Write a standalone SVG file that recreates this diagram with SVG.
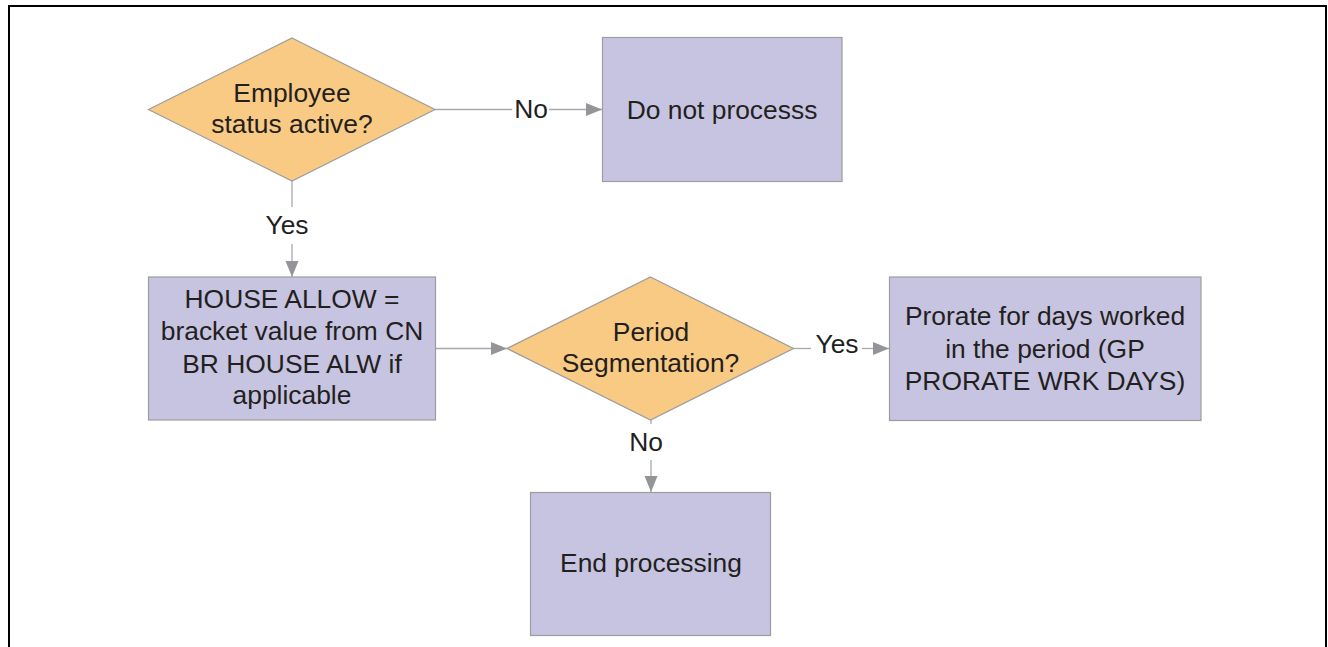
<svg xmlns="http://www.w3.org/2000/svg" width="1328" height="647" viewBox="0 0 1328 647">
  <style>
    .decision { fill: #f9ca83; stroke: #9d9d9d; stroke-width: 1.2; }
    .process { fill: #c7c4e1; stroke: #9d9d9d; stroke-width: 1.2; }
    .label { font-family: "Liberation Sans", Arial, sans-serif; font-size: 26.4px; fill: #231f20; text-anchor: middle; }
    .wire { fill: none; stroke: #a7a9ac; stroke-width: 1.3; }
  </style>
  <defs>
    <marker id="arrow" markerUnits="userSpaceOnUse" markerWidth="17" markerHeight="14" refX="16" refY="7" orient="auto">
      <path d="M0,0.5 L16,7 L0,13.5 Z" fill="#939598"/>
    </marker>
  </defs>

  <rect width="1328" height="647" fill="#ffffff"/>
  <!-- outer frame, open at the bottom -->
  <path d="M9,647 V6 H1326 V647" fill="none" stroke="#000000" stroke-width="2"/>

  <g id="connectors">
    <path class="wire" d="M435,109.5 H512"/>
    <path class="wire" d="M549,109.5 H602" marker-end="url(#arrow)"/>
    <text class="label" x="531" y="118">No</text>

    <path class="wire" d="M292,181 V207"/>
    <path class="wire" d="M292,244 V277" marker-end="url(#arrow)"/>
    <text class="label" x="287" y="234">Yes</text>

    <path class="wire" d="M435,348.5 H507" marker-end="url(#arrow)"/>

    <path class="wire" d="M793,348.5 H811"/>
    <path class="wire" d="M862,348.5 H889" marker-end="url(#arrow)"/>
    <text class="label" x="837" y="353">Yes</text>

    <path class="wire" d="M651,420 V424"/>
    <path class="wire" d="M651,460 V492" marker-end="url(#arrow)"/>
    <text class="label" x="646" y="451">No</text>
  </g>

  <g id="employee-active">
    <polygon class="decision" points="292,38 435,109.5 292,181 148.5,109.5"/>
    <text class="label" x="292" y="102">Employee</text>
    <text class="label" x="292" y="133">status active?</text>
  </g>

  <g id="do-not-process">
    <rect class="process" x="602.5" y="37.5" width="239.5" height="144"/>
    <text class="label" x="722" y="118.5">Do not processs</text>
  </g>

  <g id="house-allow">
    <rect class="process" x="148.5" y="277" width="287" height="143"/>
    <text class="label" x="292" y="308">HOUSE ALLOW =</text>
    <text class="label" x="292" y="339.5">bracket value from CN</text>
    <text class="label" x="292" y="372.5">BR HOUSE ALW if</text>
    <text class="label" x="292" y="403.5">applicable</text>
  </g>

  <g id="period-segmentation">
    <polygon class="decision" points="650.5,277 793.5,348.5 650.5,420 507,348.5"/>
    <text class="label" x="651" y="341">Period</text>
    <text class="label" x="650.5" y="371.5">Segmentation?</text>
  </g>

  <g id="prorate">
    <rect class="process" x="889.5" y="277" width="311.5" height="143.5"/>
    <text class="label" x="1045" y="325">Prorate for days worked</text>
    <text class="label" x="1045" y="358">in the period (GP</text>
    <text class="label" x="1045" y="390">PRORATE WRK DAYS)</text>
  </g>

  <g id="end-processing">
    <rect class="process" x="530.5" y="492.5" width="240" height="143"/>
    <text class="label" x="651" y="571.5">End processing</text>
  </g>
</svg>
